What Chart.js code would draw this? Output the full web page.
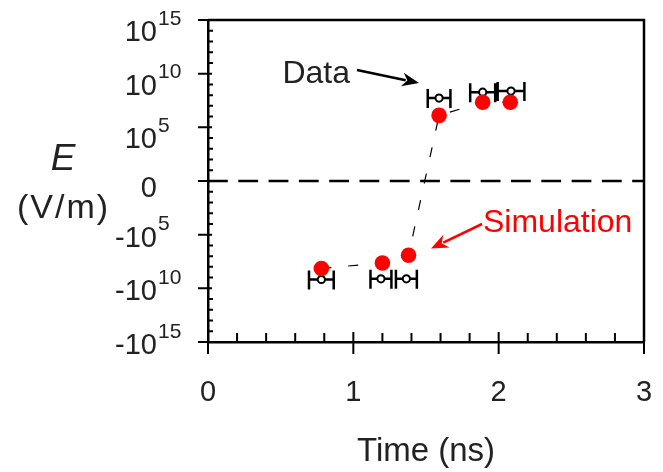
<!DOCTYPE html>
<html>
<head>
<meta charset="utf-8">
<script src="https://cdn.jsdelivr.net/npm/chart.js@4.4.1/dist/chart.umd.min.js"></script>
<style>
  html, body { margin: 0; padding: 0; background: #fff; }
  #wrap { width: 663px; height: 472px; }
</style>
</head>
<body>
<div id="wrap"><canvas id="chart"></canvas></div>
<script>
// measured points (time in ns, field in V/m)
const dataTime = [0.78, 1.19, 1.365, 1.59, 1.89, 2.085];
const dataField = [-1.5e9, -1.3e9, -1.3e9, 5.3e7, 1.9e8, 2.4e8];
const dataTimeErr = [0.085, 0.072, 0.072, 0.078, 0.086, 0.092];

// simulation
const simTime = [0.78, 1.2, 1.38, 1.59, 1.89, 2.08];
const simField = [-1.4e8, -4.3e7, -8.3e6, 1.3e6, 2.2e7, 2.2e7];

const xTicks = [0, 1, 2, 3];
const yTicks = [-1e15, -1e10, -1e5, 0, 1e5, 1e10, 1e15];

const FONT = "'Liberation Sans', Arial, sans-serif";
const TEXT = '#222';
const RED = '#ff0000';

// symmetric log: 0 sits in the middle, one decade per step
function symlog(v) {
  return Math.sign(v) * Math.log10(Math.max(Math.abs(v), 1));
}

class SymLogScale extends Chart.LinearScale {
  determineDataLimits() {
    this.min = this.options.min;
    this.max = this.options.max;
  }
  buildTicks() {
    return yTicks.map(v => ({ value: v }));
  }
  getPixelForValue(value) {
    const lo = symlog(this.min), hi = symlog(this.max);
    return this.getPixelForDecimal((symlog(value) - lo) / (hi - lo));
  }
  getValueForPixel(pixel) {
    const lo = symlog(this.min), hi = symlog(this.max);
    const t = lo + this.getDecimalForPixel(pixel) * (hi - lo);
    return Math.sign(t) * Math.pow(10, Math.abs(t));
  }
}
SymLogScale.id = 'symlog';
SymLogScale.defaults = Chart.LinearScale.defaults;
Chart.register(SymLogScale);

function arrow(ctx, x1, y1, x2, y2, color) {
  const a = Math.atan2(y2 - y1, x2 - x1);
  const len = 17, half = 7;
  ctx.save();
  ctx.strokeStyle = color;
  ctx.fillStyle = color;
  ctx.lineWidth = 2.5;
  ctx.beginPath();
  ctx.moveTo(x1, y1);
  ctx.lineTo(x2 - Math.cos(a) * len * 0.8, y2 - Math.sin(a) * len * 0.8);
  ctx.stroke();
  ctx.beginPath();
  ctx.moveTo(x2, y2);
  ctx.lineTo(x2 - Math.cos(a) * len - Math.sin(a) * half, y2 - Math.sin(a) * len + Math.cos(a) * half);
  ctx.lineTo(x2 - Math.cos(a) * len * 0.7, y2 - Math.sin(a) * len * 0.7);
  ctx.lineTo(x2 - Math.cos(a) * len + Math.sin(a) * half, y2 - Math.sin(a) * len - Math.cos(a) * half);
  ctx.closePath();
  ctx.fill();
  ctx.restore();
}

const decor = {
  id: 'decor',
  beforeDatasetsDraw(chart) {
    const { ctx, chartArea: a, scales: { x, y } } = chart;
    ctx.save();

    // zero line
    const y0 = y.getPixelForValue(0);
    ctx.strokeStyle = '#000';
    ctx.lineWidth = 2.5;
    ctx.setLineDash([19.8, 10.5]);
    ctx.beginPath();
    ctx.moveTo(a.left, y0);
    ctx.lineTo(a.right, y0);
    ctx.stroke();
    ctx.setLineDash([]);

    // top and right frame
    ctx.beginPath();
    ctx.moveTo(a.left, a.top);
    ctx.lineTo(a.right, a.top);
    ctx.lineTo(a.right, a.bottom);
    ctx.stroke();

    // tick marks
    ctx.lineWidth = 2;
    ctx.beginPath();
    for (let i = 0; i <= 15; i++) {
      const px = x.getPixelForValue(i * 0.2);
      if (i % 5 === 0) {
        ctx.moveTo(px, a.bottom - 10);
        ctx.lineTo(px, a.bottom + 12);
      } else {
        ctx.moveTo(px, a.bottom - 9);
        ctx.lineTo(px, a.bottom);
      }
    }
    for (let d = -15; d <= 15; d++) {
      const v = d === 0 ? 0 : Math.sign(d) * Math.pow(10, Math.abs(d));
      const py = y.getPixelForValue(v);
      if (d % 5 === 0) {
        ctx.moveTo(a.left - 10, py);
        ctx.lineTo(a.left + 4, py);
      } else {
        ctx.moveTo(a.left, py);
        ctx.lineTo(a.left + 5, py);
      }
    }
    ctx.stroke();

    // horizontal error bars on the data
    ctx.lineWidth = 2.5;
    ctx.beginPath();
    dataTime.forEach((t, i) => {
      const py = y.getPixelForValue(dataField[i]);
      const xl = x.getPixelForValue(t - dataTimeErr[i]);
      const xr = x.getPixelForValue(t + dataTimeErr[i]);
      ctx.moveTo(xl, py);
      ctx.lineTo(xr, py);
      ctx.moveTo(xl, py - 9);
      ctx.lineTo(xl, py + 10);
      ctx.moveTo(xr, py - 9);
      ctx.lineTo(xr, py + 10);
    });
    ctx.stroke();
    ctx.restore();
  },
  afterDraw(chart) {
    const { ctx, scales: { y } } = chart;
    ctx.save();
    ctx.fillStyle = TEXT;
    ctx.textBaseline = 'alphabetic';

    // y tick labels with superscript exponents
    y.ticks.forEach(t => {
      const v = t.value;
      const py = y.getPixelForValue(v);
      ctx.font = '29px ' + FONT;
      ctx.textAlign = 'right';
      if (v === 0) {
        ctx.fillText('0', 157, py + 15.5);
        return;
      }
      const exp = Math.round(Math.log10(Math.abs(v)));
      const bl = py + (v > 0 ? 21 : 12);
      ctx.fillText((v < 0 ? '-' : '') + '10', 157, bl);
      ctx.font = '21px ' + FONT;
      ctx.textAlign = 'left';
      ctx.fillText(String(exp), 158, bl - 16.5);
    });

    // y axis title
    ctx.textAlign = 'center';
    ctx.font = 'italic 37px ' + FONT;
    ctx.fillText('E', 63, 170);
    ctx.font = '34px ' + FONT;
    ctx.letterSpacing = '2px';
    ctx.fillText('(V/m)', 63.5, 218);
    ctx.letterSpacing = '0px';

    // annotations
    ctx.font = '32px ' + FONT;
    ctx.textAlign = 'right';
    ctx.fillText('Data', 350, 83);
    arrow(ctx, 357, 70, 419, 83, '#000');

    ctx.fillStyle = RED;
    ctx.textAlign = 'left';
    ctx.fillText('Simulation', 483, 231.5);
    arrow(ctx, 482, 224, 431, 248.5, RED);
    ctx.restore();
  }
};

new Chart(document.getElementById('chart'), {
  type: 'scatter',
  data: {
    datasets: [
      {
        label: 'Simulation',
        data: simTime.map((t, i) => ({ x: t, y: simField[i] })),
        showLine: true,
        borderColor: '#000',
        borderWidth: 1.2,
        borderDash: [10, 17],
        pointRadius: 7.8,
        pointBackgroundColor: RED,
        pointBorderColor: RED,
        pointBorderWidth: 0
      },
      {
        label: 'Data',
        data: dataTime.map((t, i) => ({ x: t, y: dataField[i] })),
        showLine: false,
        pointRadius: 3.6,
        pointBackgroundColor: '#fff',
        pointBorderColor: '#000',
        pointBorderWidth: 2
      }
    ]
  },
  options: {
    responsive: true,
    maintainAspectRatio: false,
    animation: false,
    layout: { padding: { top: 20, right: 19, left: 0, bottom: 0 } },
    plugins: { legend: { display: false }, tooltip: { enabled: false } },
    scales: {
      x: {
        type: 'linear',
        min: 0,
        max: 3,
        afterBuildTicks: s => { s.ticks = xTicks.map(v => ({ value: v })); },
        afterFit: s => { s.height = 130; s.paddingLeft = 0; s.paddingRight = 0; },
        grid: { display: false },
        border: { display: true, color: '#000', width: 2.5 },
        ticks: { font: { family: FONT, size: 29 }, color: TEXT, padding: 26, maxRotation: 0 },
        title: {
          display: true,
          text: 'Time (ns)',
          font: { family: FONT, size: 33 },
          color: TEXT,
          padding: { top: 0, bottom: 0 }
        }
      },
      y: {
        type: 'symlog',
        min: -1e15,
        max: 1e15,
        afterFit: s => { s.width = 208; s.paddingTop = 0; s.paddingBottom = 0; },
        grid: { display: false },
        border: { display: true, color: '#000', width: 2.5 },
        ticks: { display: false }
      }
    }
  },
  plugins: [decor]
});
</script>
</body>
</html>
